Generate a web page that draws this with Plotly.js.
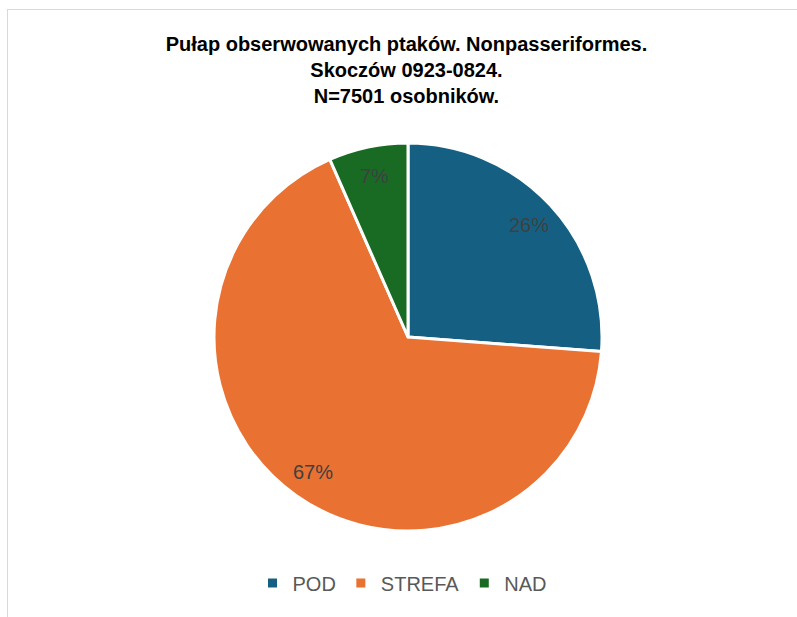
<!DOCTYPE html>
<html>
<head>
<meta charset="utf-8">
<script src="https://cdn.plot.ly/plotly-3.0.1.min.js"></script>
<style>
  html, body { margin: 0; padding: 0; background: #fff; overflow: hidden; }
  #wrap { position: relative; width: 797px; height: 617px; overflow: hidden; }
  #chart { position: absolute; left: 0; top: 0; width: 797px; height: 617px; }
  #frame { position: absolute; left: 7px; top: 9px; width: 900px; height: 900px;
           border-left: 1.5px solid #d9d9d9; border-top: 1.5px solid #d9d9d9; pointer-events: none; }
</style>
</head>
<body>
<div id="wrap">
  <div id="chart"></div>
  <div id="frame"></div>
</div>
<script>
const categories = ["POD", "STREFA", "NAD"];
const shares = [26.2, 67.2, 6.6];
const colors = ["#156082", "#E97132", "#196B24"];
const titleLines = [
  "Pułap obserwowanych ptaków. Nonpasseriformes.",
  "Skoczów 0923-0824.",
  "N=7501 osobników."
];

// label positions derived from the slice angles (clockwise from 12 o'clock)
const total = shares.reduce((a, b) => a + b, 0);
const labelRadius = 0.425; // fraction of domain (radius = 0.5)
let cum = 0;
const labelAnnotations = shares.map((v) => {
  const mid = (cum + v / 2) / total * 2 * Math.PI;
  cum += v;
  return {
    xref: "paper", yref: "paper",
    x: 0.5 + labelRadius * Math.sin(mid),
    y: 0.5 + labelRadius * Math.cos(mid),
    text: Math.round(v / total * 100) + "%",
    showarrow: false,
    xanchor: "center", yanchor: "middle",
    font: { family: "Liberation Sans, Arial, sans-serif", size: 20, color: "#404040" }
  };
});

const trace = {
  type: "pie",
  labels: categories,
  values: shares,
  sort: false,
  direction: "clockwise",
  rotation: 0,
  marker: { colors: colors, line: { color: "#ffffff", width: 3 } },
  textinfo: "none",
  hoverinfo: "label+percent"
};

const layout = {
  width: 797,
  height: 617,
  paper_bgcolor: "#ffffff",
  margin: { l: 214, r: 195, t: 143, b: 86 },
  title: {
    text: "<b>" + titleLines.join("<br>") + "</b>",
    font: { family: "Liberation Sans, Arial, sans-serif", size: 20, color: "#000000" },
    x: 0.51, xref: "container", xanchor: "center",
    y: 0.918, yref: "container", yanchor: "top"
  },
  annotations: labelAnnotations,
  showlegend: true,
  legend: {
    orientation: "h",
    xref: "container", yref: "container",
    x: 0.505, xanchor: "center",
    y: 0.055, yanchor: "middle",
    font: { family: "Liberation Sans, Arial, sans-serif", size: 20, color: "#595959" },
    itemclick: false, itemdoubleclick: false
  }
};

Plotly.newPlot("chart", [trace], layout, { displayModeBar: false, staticPlot: true });
</script>
</body>
</html>
